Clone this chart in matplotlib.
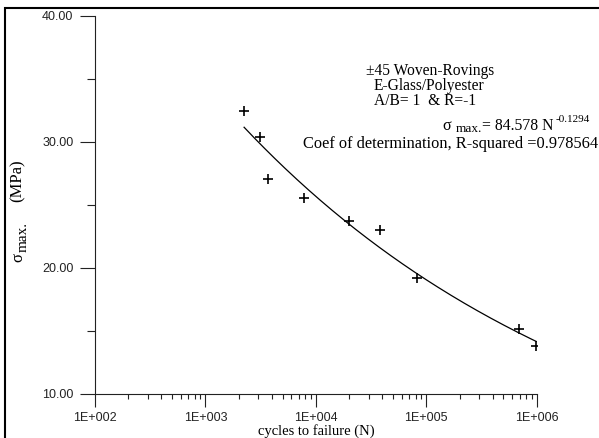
import matplotlib
matplotlib.use("Agg")
import matplotlib.pyplot as plt
import numpy as np
from matplotlib.patches import Rectangle
from matplotlib.ticker import FixedLocator, FixedFormatter, NullFormatter

# data
cycles = [2240, 3126, 3690, 7870, 20000, 38200, 82000, 693000, 990000]
stress = [32.48, 30.42, 27.07, 25.57, 23.71, 22.98, 19.18, 15.14, 13.79]
fit_a = 84.578
fit_b = -0.1294
x_ticks = [1e2, 1e3, 1e4, 1e5, 1e6]
x_labels = ["1E+002", "1E+003", "1E+004", "1E+005", "1E+006"]
y_ticks = [10, 20, 30, 40]
y_labels = ["10.00", "20.00", "30.00", "40.00"]

W, H = 599, 438
fig = plt.figure(figsize=(W / 100, H / 100), dpi=100)
ax = fig.add_axes([95 / W, 1 - 394 / H, (536.7 - 95) / W, (394 - 16) / H])

n_fit = np.logspace(np.log10(min(cycles)), np.log10(max(cycles)), 200)
ax.plot(n_fit, fit_a * n_fit ** fit_b, color='black', lw=0.9)
ax.plot(cycles, stress, linestyle='none', marker='+', color='black',
        markersize=6.5, markeredgewidth=1.2)

ax.set_xscale('log')
ax.set_xlim(1e2, 1e6)
ax.set_ylim(10, 40)

ax.xaxis.set_major_locator(FixedLocator(x_ticks))
ax.xaxis.set_major_formatter(FixedFormatter(x_labels))
minor_x = [m * 10 ** d for d in range(2, 6) for m in range(2, 10)]
ax.xaxis.set_minor_locator(FixedLocator(minor_x))
ax.xaxis.set_minor_formatter(NullFormatter())
ax.yaxis.set_major_locator(FixedLocator(y_ticks))
ax.yaxis.set_major_formatter(FixedFormatter(y_labels))
ax.yaxis.set_minor_locator(FixedLocator([15, 25, 35]))

for s in ['top', 'right']:
    ax.spines[s].set_visible(False)
for s in ['left', 'bottom']:
    ax.spines[s].set_linewidth(0.8)
    ax.spines[s].set_color('#222222')

ax.tick_params(axis='x', which='major', direction='out', length=9.4, width=0.8,
               pad=3.5, labelsize=9, colors='#222222')
ax.tick_params(axis='x', which='minor', direction='out', length=3.8, width=0.8,
               colors='#222222')
ax.tick_params(axis='y', which='major', direction='out', length=10.5, width=0.8,
               pad=5, labelsize=9, colors='#222222')
ax.tick_params(axis='y', which='minor', direction='out', length=5.5, width=0.8,
               colors='#222222')
for lab in ax.get_xticklabels() + ax.get_yticklabels():
    lab.set_fontfamily('Liberation Sans')

ax.set_xlabel('cycles to failure (N)', fontfamily='Liberation Serif', fontsize=10.5,
              labelpad=0)

ft = fig.transFigure
serif = 'Liberation Serif'

# y-axis label built from pieces (near full-size subscript as in the reference)
fig.text(18 / W, 1 - 258 / H, 'σ', fontfamily=serif, fontsize=12, rotation=90,
         ha='center', va='center', transform=ft)
fig.text(23.5 / W, 1 - 252 / H, 'max.', fontfamily=serif, fontsize=11, rotation=90,
         ha='center', va='bottom', transform=ft)
fig.text(18 / W, 1 - 202 / H, '(MPa)', fontfamily=serif, fontsize=12, rotation=90,
         ha='center', va='bottom', transform=ft)

ctr = dict(fontfamily=serif, fontsize=11.2, ha='center', va='center', transform=ft)
fig.text(430 / W, 1 - 71 / H, '±45 Woven-Rovings', **ctr)
fig.text(429 / W, 1 - 86 / H, 'E-Glass/Polyester', **ctr)
fig.text(425 / W, 1 - 101 / H, 'A/B= 1  & R=-1', **ctr)

# power-law formula
fig.text(442 / W, 1 - 130 / H, 'σ', fontfamily=serif, fontsize=11.5,
         ha='left', va='baseline', transform=ft)
fig.text(455.5 / W, 1 - 132.5 / H, 'max.', fontfamily=serif, fontsize=9.5,
         ha='left', va='baseline', transform=ft)
fig.text(482 / W, 1 - 130 / H, f'= {fit_a} N', fontfamily=serif, fontsize=11.3,
         ha='left', va='baseline', transform=ft)
fig.text(556 / W, 1 - 122.5 / H, f'{fit_b}', fontfamily=serif, fontsize=8,
         ha='left', va='baseline', transform=ft)
fig.text(303 / W, 1 - 144 / H, 'Coef of determination, R-squared =0.978564',
         fontfamily=serif, fontsize=11.8, ha='left', va='center', transform=ft)

fig.patches.append(Rectangle((4.5 / W, -0.2), 1.2, 1 - 7.5 / H + 0.2,
                             transform=ft, fill=False,
                             edgecolor='black', linewidth=1.5, clip_on=False))

fig.savefig('out.png', dpi=100)
